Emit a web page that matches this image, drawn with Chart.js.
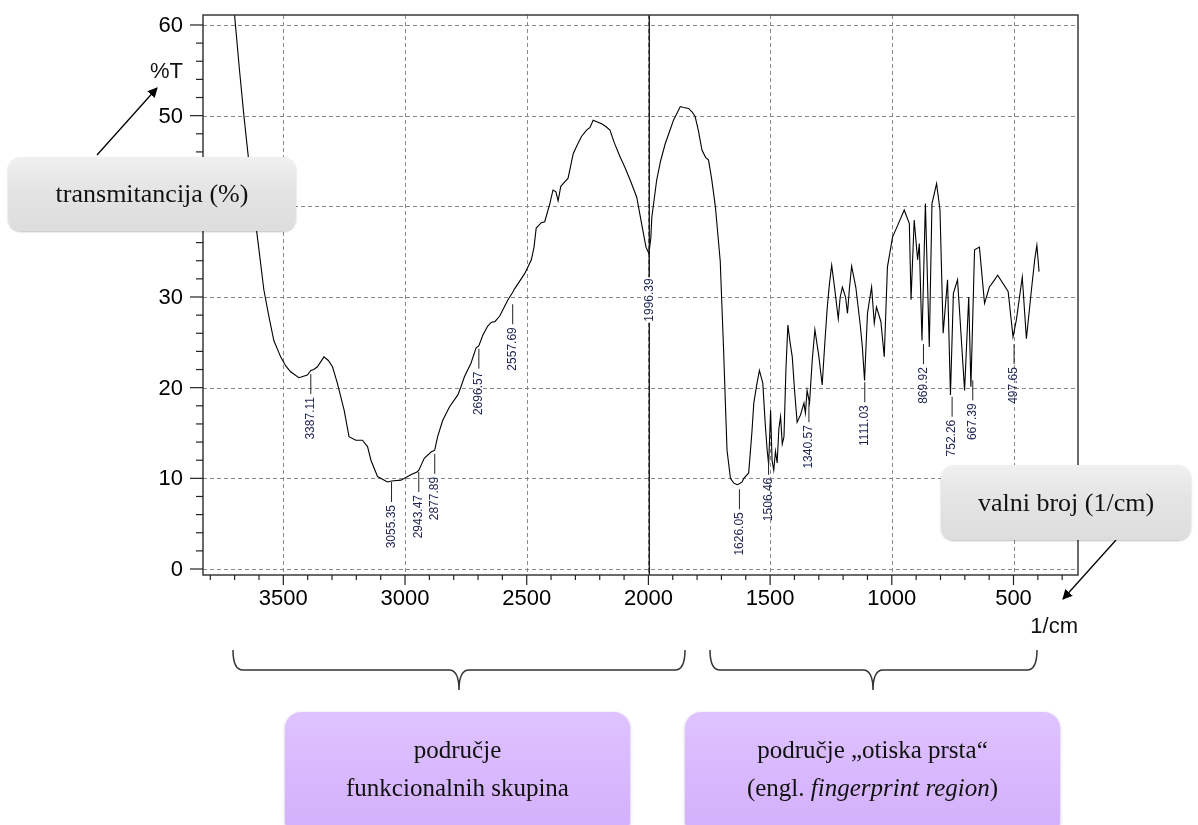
<!DOCTYPE html>
<html>
<head>
<meta charset="utf-8">
<script src="https://cdn.jsdelivr.net/npm/chart.js@4.4.1/dist/chart.umd.min.js"></script>
<style>
	body { margin:0; background:#fff; }
	#wrap { position:relative; width:1198px; height:825px; overflow:hidden; font-family:"Liberation Serif", serif; }
	#c { position:absolute; left:0; top:0; }
	svg { position:absolute; left:0; top:0; }
	.gbox { position:absolute; border-radius:13px; background:linear-gradient(#f0f0f0, #e4e4e4 45%, #dddddd);
		box-shadow:0 1px 2px rgba(0,0,0,0.25); font-size:26px; color:#111; text-align:center; }
	.pbox { position:absolute; border-radius:16px; background:linear-gradient(#dfc3ff, #d8b8fd 50%, #d3b0fb);
		box-shadow:0 1px 3px rgba(90,40,140,0.35); font-size:25px; color:#111; text-align:center; line-height:38px; }
</style>
</head>
<body>
<div id="wrap">
	<canvas id="c" width="1198" height="825"></canvas>
	<svg width="1198" height="825">
		<defs>
			<marker id="ah" markerWidth="10" markerHeight="10" refX="9" refY="5" orient="auto" markerUnits="userSpaceOnUse">
				<path d="M0,0 L10,5 L0,10 z" fill="#000"/>
			</marker>
		</defs>
		<line x1="97" y1="155" x2="157" y2="88" stroke="#000" stroke-width="1.3" marker-end="url(#ah)"/>
		<line x1="1116" y1="540" x2="1063" y2="599" stroke="#000" stroke-width="1.3" marker-end="url(#ah)"/>
		<path d="M233,650 Q233,670 243,670 L449,670 Q459,670 459,690 Q459,670 469,670 L675,670 Q685,670 685,650" fill="none" stroke="#333" stroke-width="1.5"/>
		<path d="M710,650 Q710,670 720,670 L863,670 Q873,670 873,690 Q873,670 883,670 L1027,670 Q1037,670 1037,650" fill="none" stroke="#333" stroke-width="1.5"/>
	</svg>
	<div class="gbox" style="left:8px;top:157px;width:288px;height:74px;line-height:74px;">transmitancija (%)</div>
	<div class="gbox" style="left:941px;top:465px;width:250px;height:75px;line-height:75px;">valni broj (1/cm)</div>
	<div class="pbox" style="left:285px;top:712px;width:345px;height:125px;"><div style="padding-top:19px">područje<br>funkcionalnih skupina</div></div>
	<div class="pbox" style="left:685px;top:712px;width:375px;height:125px;"><div style="padding-top:19px">područje „otiska prsta“<br>(engl. <i>fingerprint region</i>)</div></div>
</div>
<script>
// IR spektar - valni broj (1/cm) i transmitancija (%T)
var waveNumbers = [3720, 3700, 3680, 3662, 3640, 3620, 3600, 3580, 3559, 3539, 3511, 3490, 3470, 3436, 3401, 3387,
	3375, 3360, 3333, 3315, 3298, 3278, 3250, 3230, 3202, 3175, 3154, 3140, 3113, 3072, 3055, 3017, 2976, 2951,
	2943, 2921, 2893, 2878, 2866, 2845, 2817, 2783, 2770, 2756, 2729, 2708, 2697, 2680, 2660, 2646, 2630, 2611,
	2590, 2577, 2558, 2550, 2530, 2508, 2481, 2470, 2461, 2440, 2426, 2405, 2392, 2380, 2371, 2360, 2350, 2330,
	2309, 2290, 2275, 2254, 2240, 2227, 2210, 2192, 2175, 2158, 2140, 2117, 2095, 2075, 2048, 2028, 2010, 1998,
	1990, 1986, 1966, 1950, 1931, 1910, 1897, 1880, 1869, 1855, 1835, 1820, 1808, 1795, 1780, 1765, 1753, 1740,
	1725, 1705, 1698, 1691, 1684, 1677, 1663, 1650, 1636, 1626, 1615, 1608, 1588, 1575, 1567, 1555, 1544, 1530,
	1520, 1512, 1506, 1498, 1492, 1485, 1478, 1471, 1464, 1457, 1450, 1443, 1435, 1427, 1418, 1409, 1399, 1389,
	1375, 1361, 1355, 1348, 1338, 1327, 1316, 1300, 1286, 1275, 1265, 1256, 1247, 1235, 1220, 1212, 1203, 1190,
	1182, 1174, 1165, 1148, 1130, 1121, 1112, 1100, 1083, 1072, 1063, 1045, 1031, 1018, 997, 976, 949,
	928, 921, 908, 894, 887, 876, 862, 846, 835, 816, 802, 789, 771, 759, 747, 730, 722, 701, 684, 675, 660,
	640, 619, 599, 580, 565, 522, 502, 488, 464, 447, 427, 413, 404, 395];
var transmittance = [63.5, 61.0, 55.0, 50.0, 44.5, 39.5, 35.2, 30.8, 27.8, 25.2, 23.4, 22.4, 21.75, 21.1, 21.4, 21.9,
	22.0, 22.3, 23.4, 23.0, 22.3, 20.5, 17.5, 14.6, 14.2, 14.2, 13.5, 12.0, 10.2, 9.6, 9.7, 9.8, 10.4, 10.7,
	10.9, 12.2, 12.9, 13.1, 14.6, 16.4, 17.9, 19.2, 20.1, 21.2, 22.7, 24.4, 24.6, 25.8, 26.8, 27.2, 27.3, 27.9,
	29.0, 29.7, 30.5, 30.9, 31.7, 32.6, 34.1, 35.5, 37.6, 38.2, 38.3, 40.3, 41.8, 41.6, 40.6, 42.2, 42.5, 43.1,
	45.8, 46.9, 47.7, 48.4, 48.7, 49.5, 49.3, 49.1, 48.8, 48.4, 47.0, 45.5, 44.2, 42.9, 41.0, 38.1, 35.5, 34.8,
	36.5, 38.8, 42.9, 45.0, 46.9, 48.5, 49.5, 50.4, 51.0, 50.9, 50.8, 50.4, 49.9, 48.4, 46.2, 45.4, 45.1, 43.0,
	40.0, 34.0, 29.0, 24.1, 18.5, 13.1, 10.0, 9.5, 9.3, 9.4, 9.6, 10.0, 10.6, 15.0, 18.3, 20.3, 21.9, 20.5,
	16.0, 13.1, 11.5, 17.5, 12.0, 10.9, 13.0, 11.7, 15.5, 16.8, 13.8, 14.6, 22.0, 26.9, 25.0, 23.4, 19.5, 16.2,
	17.0, 18.3, 17.2, 19.7, 18.3, 23.0, 26.4, 23.5, 20.3, 25.0, 28.9, 31.5, 33.5, 31.0, 27.6, 30.0, 31.1, 30.0,
	28.2, 31.0, 33.4, 31.1, 27.0, 24.5, 20.8, 28.2, 31.1, 27.1, 28.9, 27.3, 23.4, 33.3, 36.6, 37.9, 39.6,
	38.1, 29.7, 38.5, 34.1, 35.9, 25.2, 40.3, 24.5, 40.3, 42.5, 39.6, 26.0, 31.9, 19.2, 30.4, 31.9, 28.6, 19.7, 30.0, 20.1, 35.2,
	35.5, 29.3, 31.1, 31.8, 32.4, 30.6, 25.6, 27.5, 32.2, 25.4, 30.6, 34.1, 35.7, 32.8];

// oznake pikova
var peakLabels = ["3387.11", "3055.35", "2943.47", "2877.89", "2696.57", "2557.69", "1996.39", "1626.05",
	"1506.46", "1340.57", "1111.03", "869.92", "752.26", "667.39", "497.65"];
var peakTops = [21.5, 9.6, 10.7, 12.7, 24.3, 29.2, 34.6, 8.8, 12.6, 18.4, 20.6, 24.8, 19.0, 20.8, 24.8];

var xTickLabels = [3500, 3000, 2500, 2000, 1500, 1000, 500];
var yTickLabels = [0, 10, 20, 30, 40, 50, 60];
var xMinor = 100, yMinor = 2;

var points = [];
for (var i = 0; i < waveNumbers.length; i++) points.push({x: waveNumbers[i], y: transmittance[i]});

var axisFont = "22px 'Liberation Sans', Arial, sans-serif";

var frame = {
	id: "frame",
	beforeDatasetsDraw: function(chart) {
		var ctx = chart.ctx, a = chart.chartArea;
		var xs = chart.scales.x, ys = chart.scales.y;
		ctx.save();
		ctx.strokeStyle = "#8a8a8a"; ctx.lineWidth = 1;
		ctx.setLineDash([4, 3]);
		xTickLabels.forEach(function(v) {
			var x = Math.round(xs.getPixelForValue(v)) + 0.5;
			ctx.beginPath(); ctx.moveTo(x, a.top); ctx.lineTo(x, a.bottom); ctx.stroke();
		});
		yTickLabels.forEach(function(v) {
			var y = Math.round(ys.getPixelForValue(v)) + 0.5;
			ctx.beginPath(); ctx.moveTo(a.left, y); ctx.lineTo(a.right, y); ctx.stroke();
		});
		ctx.restore();
	},
	afterDatasetsDraw: function(chart) {
		var ctx = chart.ctx, a = chart.chartArea;
		var xs = chart.scales.x, ys = chart.scales.y;
		ctx.save();
		// vertikalna linija kod 1996.39
		var xv = xs.getPixelForValue(parseFloat(peakLabels[6]));
		ctx.strokeStyle = "#111"; ctx.lineWidth = 1.3;
		ctx.beginPath(); ctx.moveTo(xv, a.top); ctx.lineTo(xv, a.bottom); ctx.stroke();

		// oznake pikova
		ctx.font = "12px 'Liberation Sans', Arial, sans-serif";
		ctx.lineWidth = 1;
		for (var i = 0; i < peakLabels.length; i++) {
			var px = xs.getPixelForValue(parseFloat(peakLabels[i]));
			var py = ys.getPixelForValue(peakTops[i]);
			ctx.strokeStyle = "#222";
			ctx.beginPath(); ctx.moveTo(px, py); ctx.lineTo(px, py + 20); ctx.stroke();
			ctx.save();
			ctx.translate(px, py + 23);
			ctx.rotate(-Math.PI / 2);
			var w = ctx.measureText(peakLabels[i]).width;
			if (i == 6) { ctx.fillStyle = "#fff"; ctx.fillRect(-w - 1, -6, w + 2, 12); }
			ctx.fillStyle = "#1c2350";
			ctx.textAlign = "right"; ctx.textBaseline = "middle";
			ctx.fillText(peakLabels[i], 0, 0);
			ctx.restore();
		}

		// okvir
		ctx.strokeStyle = "#3a3a3a"; ctx.lineWidth = 1.5;
		ctx.strokeRect(a.left, a.top, a.right - a.left, a.bottom - a.top);

		// crtice na osima
		ctx.lineWidth = 1.2; ctx.strokeStyle = "#222";
		for (var v = Math.ceil(xs.min / xMinor) * xMinor; v <= xs.max; v += xMinor) {
			var x = xs.getPixelForValue(v);
			var len = (xTickLabels.indexOf(v) >= 0) ? 10 : 5;
			ctx.beginPath(); ctx.moveTo(x, a.bottom); ctx.lineTo(x, a.bottom + len); ctx.stroke();
		}
		for (var t = 0; t <= ys.max; t += yMinor) {
			var y = ys.getPixelForValue(t);
			var l2 = (yTickLabels.indexOf(t) >= 0) ? 13 : 7;
			ctx.beginPath(); ctx.moveTo(a.left - l2, y); ctx.lineTo(a.left, y); ctx.stroke();
		}

		// oznake osi
		ctx.fillStyle = "#000";
		ctx.font = axisFont;
		ctx.textAlign = "center"; ctx.textBaseline = "middle";
		xTickLabels.forEach(function(v) { ctx.fillText(String(v), xs.getPixelForValue(v), 599); });
		ctx.textAlign = "right";
		yTickLabels.forEach(function(v) { ctx.fillText(String(v), 183, ys.getPixelForValue(v) + 1); });
		ctx.fillStyle = "#111";
		ctx.fillText("%T", 183, 72);
		ctx.fillText("1/cm", a.right, 627);
		ctx.restore();
	}
};

new Chart(document.getElementById("c"), {
	type: "line",
	data: {
		datasets: [{
			data: points,
			borderColor: "#000",
			borderWidth: 1.1,
			pointRadius: 0,
			tension: 0,
			fill: false
		}]
	},
	options: {
		responsive: false,
		animation: false,
		layout: {padding: {top: 15, right: 120, left: 0, bottom: 0}},
		plugins: {legend: {display: false}, tooltip: {enabled: false}},
		scales: {
			x: {
				type: "linear",
				reverse: true,
				min: 235,
				max: 3830,
				afterFit: function(s) { s.height = 250; },
				border: {display: false},
				grid: {display: false},
				ticks: {display: false}
			},
			y: {
				min: -0.66,
				max: 61.1,
				afterFit: function(s) { s.width = 203; },
				border: {display: false},
				grid: {display: false},
				ticks: {display: false}
			}
		}
	},
	plugins: [frame]
});
</script>
</body>
</html>
